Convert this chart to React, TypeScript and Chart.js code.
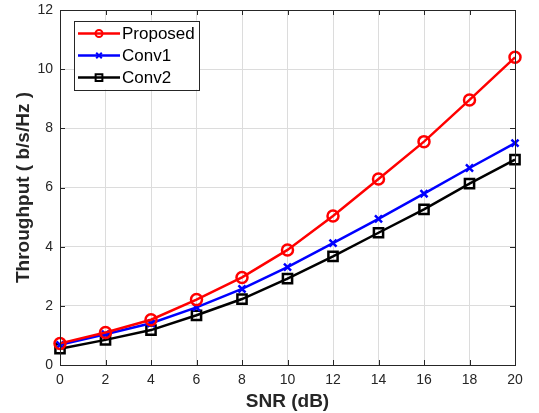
import React, { useEffect, useRef } from "react";
import { Chart, registerables } from "chart.js";

Chart.register(...registerables);

const snrDb = [0, 2, 4, 6, 8, 10, 12, 14, 16, 18, 20];
const proposed = [0.73, 1.1, 1.53, 2.21, 2.96, 3.89, 5.04, 6.29, 7.55, 8.96, 10.4];
const conv1 = [0.68, 1.04, 1.41, 1.95, 2.57, 3.31, 4.12, 4.94, 5.79, 6.66, 7.5];
const conv2 = [0.55, 0.85, 1.18, 1.68, 2.23, 2.92, 3.67, 4.47, 5.26, 6.13, 6.94];
const seriesNames = ["Proposed", "Conv1", "Conv2"];
const seriesColors = ["#ff0000", "#0000ff", "#000000"];
const seriesMarkers = ["circle", "crossRot", "rect"];
const markerRadius = [5.5, 5, 6.5];
const xTitle = "SNR (dB)";
const yTitle = "Throughput ( b/s/Hz )";

const FONT = "'Liberation Sans', Arial, Helvetica, sans-serif";
const AXIS_COLOR = "#262626";

const framePlugin = {
  id: "matlabFrame",
  afterDatasetsDraw(chart: any) {
    const { ctx, chartArea } = chart;
    const { left, right, top, bottom } = chartArea;
    const xs = chart.scales.x;
    const ys = chart.scales.y;
    ctx.save();
    ctx.strokeStyle = AXIS_COLOR;
    ctx.lineWidth = 1;
    const tl = 5;
    ctx.beginPath();
    xs.ticks.forEach((t: any) => {
      const px = Math.round(xs.getPixelForValue(t.value)) + 0.5;
      ctx.moveTo(px, bottom);
      ctx.lineTo(px, bottom - tl);
      ctx.moveTo(px, top);
      ctx.lineTo(px, top + tl);
    });
    ys.ticks.forEach((t: any) => {
      const py = Math.round(ys.getPixelForValue(t.value)) + 0.5;
      ctx.moveTo(left, py);
      ctx.lineTo(left + tl, py);
      ctx.moveTo(right, py);
      ctx.lineTo(right - tl, py);
    });
    ctx.stroke();
    ctx.strokeRect(Math.round(left) + 0.5, Math.round(top) + 0.5, Math.round(right - left), Math.round(bottom - top));
    ctx.restore();
  },
};

function drawMarker(ctx: CanvasRenderingContext2D, style: string, x: number, y: number, r: number, color: string) {
  ctx.save();
  ctx.strokeStyle = color;
  ctx.lineWidth = 2;
  ctx.beginPath();
  if (style === "circle") {
    ctx.arc(x, y, r, 0, Math.PI * 2);
  } else if (style === "crossRot") {
    const o = r * 0.8;
    ctx.moveTo(x - o, y - o);
    ctx.lineTo(x + o, y + o);
    ctx.moveTo(x - o, y + o);
    ctx.lineTo(x + o, y - o);
  } else {
    ctx.rect(x - r * 0.75, y - r * 0.75, r * 1.5, r * 1.5);
  }
  ctx.stroke();
  ctx.restore();
}

const legendPlugin = {
  id: "matlabLegend",
  afterDraw(chart: any) {
    const { ctx, chartArea } = chart;
    const bx = chartArea.left + 14;
    const by = chartArea.top + 10.5;
    const bw = 125;
    const bh = 69;
    ctx.save();
    ctx.fillStyle = "#ffffff";
    ctx.fillRect(bx, by, bw, bh);
    ctx.strokeStyle = AXIS_COLOR;
    ctx.lineWidth = 1;
    ctx.strokeRect(Math.round(bx) + 0.5, Math.round(by) + 0.5, bw, bh);
    chart.data.datasets.forEach((ds: any, i: number) => {
      const cy = by + 13 + i * 22;
      ctx.strokeStyle = ds.borderColor;
      ctx.lineWidth = 2.5;
      ctx.beginPath();
      ctx.moveTo(bx + 4, cy);
      ctx.lineTo(bx + 46, cy);
      ctx.stroke();
      const r = i === 2 ? 4.5 : 3.5;
      drawMarker(ctx, ds.pointStyle, bx + 25, cy, r, ds.borderColor);
      ctx.fillStyle = "#000000";
      ctx.font = `17px ${FONT}`;
      ctx.textBaseline = "middle";
      ctx.textAlign = "left";
      ctx.fillText(ds.label, bx + 48, cy + 1);
    });
    ctx.restore();
  },
};

export default function App() {
  const canvasRef = useRef<HTMLCanvasElement | null>(null);

  useEffect(() => {
    const canvas = canvasRef.current;
    if (!canvas) return;
    const seriesValues = [proposed, conv1, conv2];
    const chart = new Chart(canvas, {
      type: "line",
      data: {
        datasets: seriesValues.map((vals, i) => ({
          label: seriesNames[i],
          data: snrDb.map((x, j) => ({ x, y: vals[j] })),
          borderColor: seriesColors[i],
          backgroundColor: "rgba(0,0,0,0)",
          borderWidth: 2.5,
          pointStyle: seriesMarkers[i] as any,
          pointRadius: markerRadius[i],
          pointBorderWidth: 2.5,
          pointBorderColor: seriesColors[i],
          pointBackgroundColor: "rgba(0,0,0,0)",
          tension: 0,
          fill: false,
          clip: false as any,
        })),
      },
      options: {
        responsive: false,
        animation: false,
        devicePixelRatio: 1,
        layout: { padding: { left: 0, top: 10, right: 24, bottom: 0 } },
        plugins: {
          legend: { display: false },
          tooltip: { enabled: false },
        },
        scales: {
          x: {
            type: "linear",
            min: 0,
            max: 20,
            ticks: {
              stepSize: 2,
              color: AXIS_COLOR,
              font: { family: FONT, size: 14 },
              padding: 7,
              maxRotation: 0,
            },
            grid: { color: "#dcdcdc", drawTicks: false, lineWidth: 1 },
            border: { display: false },
            title: {
              display: true,
              text: xTitle,
              color: AXIS_COLOR,
              font: { family: FONT, size: 19, weight: "bold" },
              padding: { top: 0, bottom: 0 },
            },
            afterFit: (s: any) => {
              s.height = 48;
              s.paddingLeft = 0;
              s.paddingRight = 0;
            },
          },
          y: {
            type: "linear",
            min: 0,
            max: 12,
            ticks: {
              stepSize: 2,
              color: AXIS_COLOR,
              font: { family: FONT, size: 14 },
              padding: 7,
            },
            grid: { color: "#dcdcdc", drawTicks: false, lineWidth: 1 },
            border: { display: false },
            title: {
              display: true,
              text: yTitle,
              color: AXIS_COLOR,
              font: { family: FONT, size: 19, weight: "bold" },
              padding: { top: 12, bottom: 0 },
            },
            afterFit: (s: any) => {
              s.width = 60;
              s.paddingTop = 0;
              s.paddingBottom = 0;
            },
          },
        },
      },
      plugins: [framePlugin, legendPlugin],
    });
    return () => chart.destroy();
  }, []);

  return (
    <div style={{ position: "fixed", left: 0, top: 0, width: 539, height: 413, background: "#fff" }}>
      <canvas ref={canvasRef} width={539} height={413} style={{ width: 539, height: 413 }} />
    </div>
  );
}
